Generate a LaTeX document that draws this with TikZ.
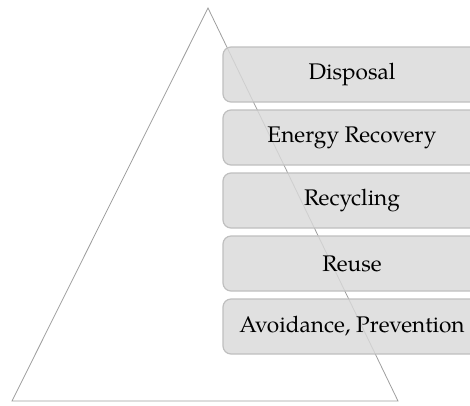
\documentclass[tikz,border=0pt]{standalone}
\usepackage{fontspec}
\setmainfont{TeX Gyre Pagella}
\usetikzlibrary{positioning}

\begin{document}
\begin{tikzpicture}[
	x=1pt, y=-1pt,
	pyramid/.style={draw=black!38, line width=0.8pt, line join=miter},
	level/.style={rectangle, rounded corners=8pt, draw=black!25, line width=1.2pt, fill=black!15, fill opacity=0.82, text opacity=1, minimum width=258pt, minimum height=55pt, inner sep=0pt, outer sep=0pt, font=\fontsize{22.6}{26}\selectfont, node distance=8pt},
]
	\useasboundingbox (0,0) rectangle (470,405);
	\clip (0,0) rectangle (470,405);

	\draw[pyramid] (208,8) -- (398,401) -- (12,401) -- cycle;

	\node[level, anchor=north west] (disposal) at (223,47) {Disposal};
	\node[level, below=of disposal] (energy) {Energy Recovery};
	\node[level, below=of energy] (recycling) {Recycling};
	\node[level, below=of recycling] (reuse) {Reuse};
	\node[level, below=of reuse] (avoidance) {Avoidance, Prevention};
\end{tikzpicture}
\end{document}
